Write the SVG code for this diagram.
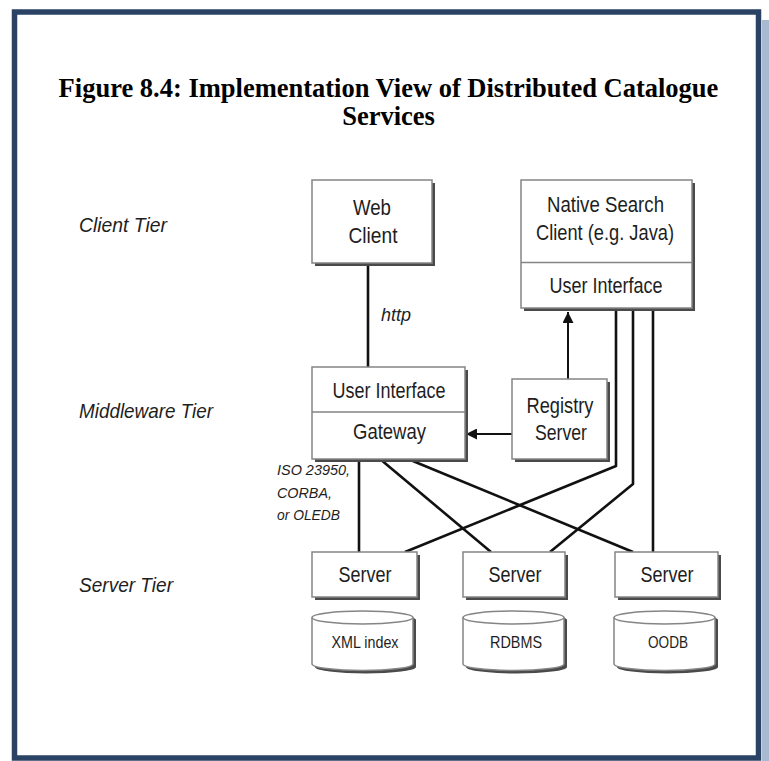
<svg xmlns="http://www.w3.org/2000/svg" width="769" height="761" viewBox="0 0 769 761">
<style>
.frame{fill:#fff;stroke:#2a4365;stroke-width:5.5}
.sh{fill:#4a4a4a}
.box{fill:#fff;stroke:#858585;stroke-width:1.5}
.div{stroke:#858585;stroke-width:1.5}
.t{font-family:"Liberation Sans",Arial,sans-serif;font-size:21.5px;fill:#1e1e1e;text-anchor:middle}
.tc{font-family:"Liberation Sans",Arial,sans-serif;font-size:17px;fill:#1e1e1e;text-anchor:middle}
.tier{font-family:"Liberation Sans",Arial,sans-serif;font-size:21px;font-style:italic;fill:#1e1e1e}
.lbl{font-family:"Liberation Sans",Arial,sans-serif;font-style:italic;fill:#1e1e1e}
.title{font-family:"Liberation Serif","Times New Roman",serif;font-size:26.5px;font-weight:bold;fill:#000;text-anchor:middle}
.c{fill:none;stroke:#111;stroke-width:2.6;stroke-linejoin:round}
.a{fill:none;stroke:#111;stroke-width:2}
</style>
<defs>
<marker id="arr" viewBox="0 0 12 12" refX="12" refY="6" markerWidth="11" markerHeight="11" markerUnits="userSpaceOnUse" orient="auto">
<path d="M0,0 L12,6 L0,12 z" fill="#111"/>
</marker>
</defs>
<rect x="762" y="20" width="7" height="741" fill="#a8b9d1"/>
<rect class="frame" x="14.5" y="12" width="744" height="746"/>
<g id="title">
<text class="title" x="388.5" y="97">Figure 8.4: Implementation View of Distributed Catalogue</text>
<text class="title" x="388.5" y="125">Services</text>
</g>
<g id="tiers">
<text class="tier" x="79" y="231.5" textLength="88" lengthAdjust="spacingAndGlyphs">Client Tier</text>
<text class="tier" x="79" y="418" textLength="134" lengthAdjust="spacingAndGlyphs">Middleware Tier</text>
<text class="tier" x="79" y="591.5" textLength="94" lengthAdjust="spacingAndGlyphs">Server Tier</text>
</g>
<g id="connectors">
<line class="c" x1="368" y1="263" x2="368" y2="367"/>
<line class="a" x1="512" y1="434" x2="466" y2="434" marker-end="url(#arr)"/>
<line class="a" x1="568" y1="379" x2="568" y2="312" marker-end="url(#arr)"/>
<line class="c" x1="359" y1="459" x2="359" y2="552"/>
<line class="c" x1="380" y1="459" x2="491" y2="552"/>
<line class="c" x1="408" y1="459" x2="633" y2="552"/>
<polyline class="c" points="616,309 616,466 405,552"/>
<polyline class="c" points="633,309 633,484 550,552"/>
<line class="c" x1="653" y1="309" x2="653" y2="552"/>
<text class="lbl" x="381" y="321" font-size="17.5" textLength="30" lengthAdjust="spacingAndGlyphs">http</text>
<text class="lbl" x="277" y="475" font-size="15" textLength="73" lengthAdjust="spacingAndGlyphs">ISO 23950,</text>
<text class="lbl" x="277" y="497.5" font-size="15" textLength="55" lengthAdjust="spacingAndGlyphs">CORBA,</text>
<text class="lbl" x="277" y="520" font-size="15" textLength="63" lengthAdjust="spacingAndGlyphs">or OLEDB</text>
</g>
<g id="web-client">
<rect class="sh" x="315" y="183" width="120" height="83"/>
<rect class="box" x="312" y="180" width="120" height="83"/>
<text class="t" x="372" y="215" textLength="38" lengthAdjust="spacingAndGlyphs">Web</text>
<text class="t" x="373" y="243" textLength="49" lengthAdjust="spacingAndGlyphs">Client</text>
</g>
<g id="native-client">
<rect class="sh" x="524" y="183" width="171" height="128"/>
<rect class="box" x="521" y="180" width="171" height="128"/>
<line class="div" x1="521" y1="262.5" x2="692" y2="262.5"/>
<text class="t" x="605.5" y="212" textLength="117" lengthAdjust="spacingAndGlyphs">Native Search</text>
<text class="t" x="605" y="240" textLength="138" lengthAdjust="spacingAndGlyphs">Client (e.g. Java)</text>
<text class="t" x="606" y="293" textLength="113" lengthAdjust="spacingAndGlyphs">User Interface</text>
</g>
<g id="middleware">
<rect class="sh" x="315" y="370" width="153" height="92"/>
<rect class="box" x="312" y="367" width="153" height="92"/>
<line class="div" x1="312" y1="412" x2="465" y2="412"/>
<text class="t" x="389" y="398" textLength="113" lengthAdjust="spacingAndGlyphs">User Interface</text>
<text class="t" x="389.5" y="439" textLength="73" lengthAdjust="spacingAndGlyphs">Gateway</text>
</g>
<g id="registry">
<rect class="sh" x="515" y="382" width="95" height="80"/>
<rect class="box" x="512" y="379" width="95" height="80"/>
<text class="t" x="560" y="413" textLength="67" lengthAdjust="spacingAndGlyphs">Registry</text>
<text class="t" x="561" y="440" textLength="52" lengthAdjust="spacingAndGlyphs">Server</text>
</g>
<g id="server1">
<rect class="sh" x="315" y="555" width="105" height="45"/>
<rect class="box" x="312" y="552" width="105" height="45"/>
<text class="t" x="365" y="582" textLength="53" lengthAdjust="spacingAndGlyphs">Server</text>
</g>
<g id="server2">
<rect class="sh" x="466" y="555" width="102" height="45"/>
<rect class="box" x="463" y="552" width="102" height="45"/>
<text class="t" x="515" y="582" textLength="53" lengthAdjust="spacingAndGlyphs">Server</text>
</g>
<g id="server3">
<rect class="sh" x="618" y="555" width="103" height="45"/>
<rect class="box" x="615" y="552" width="103" height="45"/>
<text class="t" x="667" y="582" textLength="53" lengthAdjust="spacingAndGlyphs">Server</text>
</g>
<g id="xml-index">
<path class="sh" d="M315,620 A50.5,6.5 0 0 1 416,620 V667 A50.5,6.5 0 0 1 315,667 Z"/>
<path class="box" d="M312,617.5 A50.5,6.5 0 0 1 413,617.5 V664 A50.5,6.5 0 0 1 312,664 Z"/>
<path class="div" fill="none" d="M312,617.5 A50.5,6.5 0 0 0 413,617.5"/>
<text class="tc" x="365" y="648" textLength="67" lengthAdjust="spacingAndGlyphs">XML index</text>
</g>
<g id="rdbms">
<path class="sh" d="M466,620 A50.5,6.5 0 0 1 567,620 V667 A50.5,6.5 0 0 1 466,667 Z"/>
<path class="box" d="M463,617.5 A50.5,6.5 0 0 1 564,617.5 V664 A50.5,6.5 0 0 1 463,664 Z"/>
<path class="div" fill="none" d="M463,617.5 A50.5,6.5 0 0 0 564,617.5"/>
<text class="tc" x="516" y="648" textLength="52" lengthAdjust="spacingAndGlyphs">RDBMS</text>
</g>
<g id="oodb">
<path class="sh" d="M617,620 A50.5,6.5 0 0 1 718,620 V667 A50.5,6.5 0 0 1 617,667 Z"/>
<path class="box" d="M614,617.5 A50.5,6.5 0 0 1 715,617.5 V664 A50.5,6.5 0 0 1 614,664 Z"/>
<path class="div" fill="none" d="M614,617.5 A50.5,6.5 0 0 0 715,617.5"/>
<text class="tc" x="668" y="648" textLength="40" lengthAdjust="spacingAndGlyphs">OODB</text>
</g>
</svg>
